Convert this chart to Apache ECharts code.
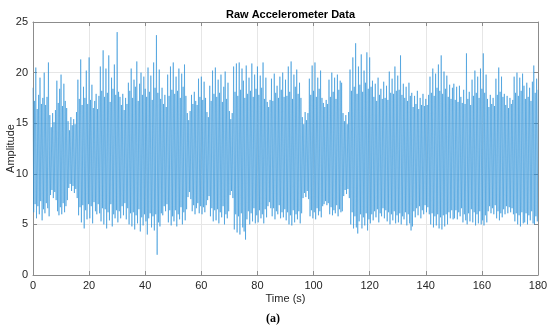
<!DOCTYPE html>
<html><head><meta charset="utf-8">
<script src="https://cdn.jsdelivr.net/npm/echarts@6/dist/echarts.min.js"></script>
<style>html,body{margin:0;padding:0;background:#fff}#c{width:550px;height:332px}</style>
</head><body><div id="c"></div>
<script>
// Sampling step between successive peak samples (seconds)
var step = 0.5;
var xTicks = [0, 20, 40, 60, 80, 100, 120, 140, 160, 180];
var yTicks = [0, 5, 10, 15, 20, 25];
// Upper envelope samples (peaks), one every 0.5 s from t = 0
var peaks = [
18.5,17.2,20.5,16.4,17.8,19.5,16.9,17.5,20.0,16.8,
17.6,21.0,15.8,14.6,16.0,15.1,16.3,19.2,17.0,18.4,
19.8,16.7,18.9,17.2,16.5,15.2,14.3,15.6,14.8,15.4,
14.9,16.1,19.3,17.4,21.3,16.8,18.6,17.5,20.2,16.9,
21.5,17.3,18.8,16.5,17.2,17.9,16.4,17.7,20.6,18.2,
22.2,17.6,20.4,18.0,21.7,17.1,19.5,18.4,20.8,17.8,
24.0,18.1,17.6,16.8,17.9,16.3,17.5,16.9,19.0,18.2,
20.4,17.5,19.3,18.6,21.1,17.2,18.9,20.0,17.8,19.6,
18.4,17.6,20.5,18.1,19.7,17.3,21.0,18.5,23.7,18.0,
20.3,17.4,18.5,16.9,17.8,16.6,19.8,17.7,20.6,18.3,
21.0,17.9,19.6,18.2,20.4,17.5,19.9,18.6,20.8,17.7,
16.0,15.3,16.2,17.8,16.9,18.1,17.2,16.8,19.4,17.6,
19.6,17.3,19.1,17.5,16.1,15.6,18.7,17.2,20.2,17.9,
20.5,17.6,19.3,18.0,19.8,17.1,18.6,20.1,17.4,19.0,
16.2,15.4,16.0,20.6,18.1,20.9,17.7,21.0,18.3,20.4,
19.2,17.5,20.7,17.9,19.5,18.2,20.9,17.6,19.8,18.4,
20.6,17.8,19.7,18.5,21.0,17.4,19.5,17.1,16.6,17.3,
19.4,17.2,19.9,18.0,18.7,17.5,19.6,18.3,20.0,17.6,
19.3,17.7,20.6,18.1,21.1,17.4,19.8,18.6,20.3,17.9,
19.0,17.5,15.6,14.9,16.1,15.3,16.0,19.4,17.8,20.7,
18.2,21.0,17.6,19.5,18.4,20.2,17.5,17.0,16.6,17.3,
16.9,19.3,17.6,20.0,18.1,19.5,17.4,19.8,18.3,19.2,
19.0,16.0,15.2,15.8,14.9,16.1,20.3,18.2,21.5,18.6,
22.9,17.9,20.6,18.8,21.8,18.1,20.2,19.0,22.0,18.4,
21.5,18.6,19.2,17.6,18.9,17.2,19.5,17.8,18.4,17.4,
19.1,17.5,18.7,17.3,20.1,18.0,19.4,17.9,20.6,18.2,
19.7,18.3,21.7,17.8,18.9,17.5,18.6,17.2,19.0,17.7,
18.0,16.6,17.7,16.9,18.2,16.4,17.5,16.8,17.9,16.7,
17.4,16.8,17.8,19.6,18.0,20.4,17.7,19.9,18.5,20.8,
18.2,21.7,17.9,20.1,18.4,19.7,17.6,18.8,17.4,18.5,
18.9,17.3,18.6,17.1,18.7,17.6,17.0,18.3,16.9,21.9,
17.4,18.1,16.8,19.3,17.7,20.2,18.0,19.6,17.5,20.4,
18.4,21.9,18.0,19.8,17.4,16.6,17.8,16.9,17.5,16.7,
19.4,17.8,20.5,18.1,19.6,17.6,17.9,16.8,17.7,16.5,
17.5,16.9,17.3,19.6,18.0,20.0,17.7,19.5,18.2,19.9,
18.7,17.4,19.0,17.6,18.5,17.2,19.1,20.7,18.0,19.4,
18.3
];
// Lower envelope samples (troughs), each 0.25 s after the matching peak
var troughs = [
6.2,7.0,5.6,6.8,6.0,7.3,5.4,6.5,6.1,7.1,
6.6,5.8,7.9,8.4,7.6,8.2,7.4,6.3,5.9,6.7,
6.0,7.1,6.2,6.8,7.4,8.6,9.0,8.3,8.8,8.1,
8.5,7.6,5.9,6.7,5.2,6.9,4.6,6.4,5.5,7.0,
5.6,6.8,5.1,7.2,6.3,6.0,7.0,6.1,5.3,6.6,
5.0,6.5,4.6,6.2,5.4,7.0,4.8,6.0,5.6,6.4,
5.2,6.3,5.6,6.8,5.9,7.1,5.5,6.6,5.0,6.1,
4.8,6.2,4.5,5.9,5.1,6.5,4.3,5.7,4.9,6.0,
5.3,4.0,5.6,6.1,4.7,5.8,4.4,6.0,2.0,5.2,
4.8,6.1,5.9,6.8,6.3,7.0,5.2,6.4,4.9,5.8,
5.3,6.4,4.8,6.0,5.5,6.7,5.0,6.2,5.4,6.5,
7.7,8.2,7.5,6.3,6.9,6.0,6.6,7.1,6.1,6.8,
6.0,6.7,6.2,6.9,7.4,7.8,5.8,6.6,5.3,6.4,
5.4,6.5,5.1,6.2,5.7,6.8,5.0,6.0,5.6,6.3,
7.9,8.3,7.6,4.5,6.0,4.2,5.8,4.0,6.1,4.7,
4.3,3.5,5.5,6.3,5.0,6.1,5.3,6.6,5.1,5.9,
5.2,6.4,5.6,6.0,5.1,6.5,5.7,6.8,7.2,6.6,
5.8,6.6,5.5,6.3,6.0,6.9,5.6,6.2,5.7,6.5,
5.4,6.2,5.0,5.9,4.9,6.4,5.2,6.0,5.5,6.3,
5.1,6.1,7.6,8.1,7.7,8.3,7.5,5.8,6.4,5.6,
6.2,5.5,6.6,5.9,6.3,5.7,6.8,7.0,7.3,6.9,
7.1,6.0,6.7,5.9,6.4,6.1,6.9,5.8,6.5,6.2,
6.3,7.8,8.4,8.0,8.5,7.6,5.0,6.2,4.6,5.8,
4.7,4.1,5.3,6.0,4.6,5.7,4.9,6.1,4.4,5.5,
5.1,6.0,5.4,6.3,5.7,6.5,5.2,6.1,5.8,6.6,
5.6,6.4,5.3,6.2,5.0,6.0,5.4,6.3,5.1,5.9,
5.2,6.1,5.0,5.8,5.5,6.2,4.9,6.0,5.1,4.4,
4.8,6.3,5.7,6.6,5.9,6.8,5.6,6.4,6.0,6.9,
6.2,6.7,6.0,5.0,6.1,4.7,5.8,4.9,6.0,4.6,
5.7,4.5,5.9,4.8,6.0,5.0,6.2,5.6,6.4,5.5,
5.6,6.4,5.5,6.2,5.8,6.6,5.2,6.0,5.4,5.0,
6.1,5.3,6.5,5.2,6.2,4.9,6.0,5.1,6.3,5.0,
5.4,4.9,5.9,5.2,6.3,6.8,6.1,6.6,6.0,6.9,
5.6,6.3,5.4,6.1,5.7,6.5,6.0,6.8,6.1,6.7,
6.2,6.6,6.0,5.3,6.1,5.0,5.9,4.8,6.2,5.1,
5.2,6.1,5.0,5.9,5.4,6.3,5.1,5.0,5.8,5.3
];

var series = [];
for (var i = 0; i < peaks.length; i++) {
  series.push([i * step, peaks[i]]);
  if (i < troughs.length) series.push([i * step + step / 2, troughs[i]]);
}

var chart = echarts.init(document.getElementById('c'), null, {renderer: 'canvas'});
var axisCol = '#262626';
var font = 'Liberation Sans, Arial, Helvetica, sans-serif';
function xAx(pos, labels) {
  return {
    type: 'value', position: pos, min: 0, max: 180, interval: 20,
    axisLine: {show: true, onZero: false, lineStyle: {color: '#8c8c8c', width: 1}},
    axisTick: {show: true, inside: true, length: 4, lineStyle: {color: '#8c8c8c'}},
    axisLabel: {show: labels, color: axisCol, fontSize: 11, fontFamily: font, margin: 5},
    splitLine: {show: labels, lineStyle: {color: '#e6e6e6', width: 1}},
    name: labels ? 'Time (s)' : '', nameLocation: 'middle', nameGap: 18, nameMoveOverlap: false,
    nameTextStyle: {color: axisCol, fontSize: 11, fontFamily: font}
  };
}
function yAx(pos, labels) {
  return {
    type: 'value', position: pos, min: 0, max: 25, interval: 5,
    axisLine: {show: true, onZero: false, lineStyle: {color: '#8c8c8c', width: 1}},
    axisTick: {show: true, inside: true, length: 4, lineStyle: {color: '#8c8c8c'}},
    axisLabel: {show: labels, color: axisCol, fontSize: 11, fontFamily: font, margin: 5},
    splitLine: {show: labels, lineStyle: {color: '#e6e6e6', width: 1}},
    name: labels ? 'Amplitude' : '', nameLocation: 'middle', nameGap: 17, nameMoveOverlap: false,
    nameTextStyle: {color: axisCol, fontSize: 11, fontFamily: font}
  };
}
chart.setOption({
  animation: false,
  backgroundColor: '#ffffff',
  title: {
    text: 'Raw Accelerometer Data', left: 285.5, top: 4, textAlign: 'center',
    textStyle: {fontSize: 11, fontWeight: 'bold', color: '#000', fontFamily: font}
  },
  grid: {left: 33, right: 12, top: 22, bottom: 57, containLabel: false, outerBoundsMode: 'none'},
  xAxis: [xAx('bottom', true), xAx('top', false)],
  yAxis: [yAx('left', true), yAx('right', false)],
  graphic: [{
    type: 'text', left: 266, top: 313,
    style: {text: '(a)', font: 'bold 12px "Liberation Serif", "Times New Roman", serif', fill: '#000'}
  }],
  series: [{
    type: 'line', data: series, showSymbol: false, symbol: 'none',
    lineStyle: {color: '#2a90d8', width: 0.8, opacity: 0.7},
    xAxisIndex: 0, yAxisIndex: 0, z: 1
  }]
});
</script></body></html>
